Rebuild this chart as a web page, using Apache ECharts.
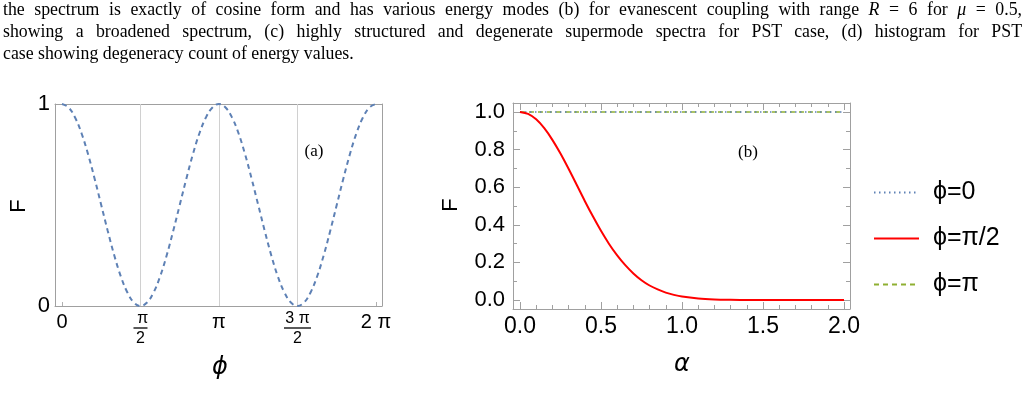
<!DOCTYPE html>
<html><head><meta charset="utf-8">
<script src="https://cdn.jsdelivr.net/npm/echarts@6/dist/echarts.min.js"></script>
<style>
html,body{margin:0;padding:0;background:#fff;}
#wrap{position:relative;width:1027px;height:408px;overflow:hidden;background:#fff;}
#chart{position:absolute;left:0;top:0;width:1027px;height:408px;}
.cap{position:absolute;left:3px;width:1019px;font-family:"Liberation Serif",serif;font-size:17.8px;line-height:22px;color:#000;white-space:nowrap;}
.j{text-align:justify;text-align-last:justify;}
.cap i{font-style:italic;}
</style></head>
<body>
<div id="wrap">
<div id="chart"></div>
<div class="cap j" style="top:-2px;">the spectrum is exactly of cosine form and has various energy modes (b) for evanescent coupling with range <i>R</i> = 6 for <i>μ</i> = 0.5,</div>
<div class="cap j" style="top:20px;">showing a broadened spectrum, (c) highly structured and degenerate supermode spectra for PST case, (d) histogram for PST</div>
<div class="cap" style="top:42px;">case showing degeneracy count of energy values.</div>
</div>
<script>
// ---- data: panel (a) ----
const phiDeg = [0,7.5,15,22.5,30,37.5,45,52.5,60,67.5,75,82.5,90,97.5,105,112.5,120,127.5,135,142.5,150,157.5,165,172.5,180,
  187.5,195,202.5,210,217.5,225,232.5,240,247.5,255,262.5,270,277.5,285,292.5,300,307.5,315,322.5,330,337.5,345,352.5,360];
const fPhi = [1,0.983,0.933,0.854,0.75,0.629,0.5,0.371,0.25,0.146,0.067,0.017,0,0.017,0.067,0.146,0.25,0.371,0.5,0.629,0.75,0.854,0.933,0.983,1,
  0.983,0.933,0.854,0.75,0.629,0.5,0.371,0.25,0.146,0.067,0.017,0,0.017,0.067,0.146,0.25,0.371,0.5,0.629,0.75,0.854,0.933,0.983,1];
const xTickValsA = [0,90,180,270,360];
const xTickLabelsA = ['0','π/2','π','3π/2','2π'];
const yTickValsA = [0,1];
const yTickLabelsA = ['0','1'];

// ---- data: panel (b) ----
const alpha = [0,0.05,0.1,0.15,0.2,0.25,0.3,0.35,0.4,0.45,0.5,0.55,0.6,0.65,0.7,0.75,0.8,0.85,0.9,0.95,1.0,
  1.1,1.2,1.3,1.4,1.5,1.6,1.7,1.8,1.9,2.0];
const fHalfPi = [1,0.99,0.961,0.914,0.852,0.779,0.698,0.613,0.527,0.445,0.368,0.298,0.237,0.185,0.141,0.105,0.077,0.056,0.039,0.027,0.018,
  0.008,0.003,0.001,0,0,0,0,0,0,0];
const alphaFlat = [0,2];
const fZero = [1,1];
const fPi = [1,1];
const seriesNames = ['ϕ=0','ϕ=π/2','ϕ=π'];
const xMajorB = [0,0.5,1,1.5,2];
const xMinorB = [0.1,0.2,0.3,0.4,0.6,0.7,0.8,0.9,1.1,1.2,1.3,1.4,1.6,1.7,1.8,1.9];
const yMajorB = [0,0.2,0.4,0.6,0.8,1];
const yMinorB = [0.1,0.3,0.5,0.7,0.9];

const zip = (xs, ys) => xs.map((x,i)=>[x, ys[i]]);
const FRAME = '#a0a0a0';
const SANS = 'Liberation Sans, Arial, sans-serif';

function ax(gi, pos, min, max, o) {
  return Object.assign({
    type:'value', gridIndex:gi, position:pos, min:min, max:max,
    axisLine:{show:false, onZero:false},
    axisTick:{show:false}, axisLabel:{show:false},
    splitLine:{show:false}, minorTick:{show:false}, minorSplitLine:{show:false}
  }, o || {});
}
const line = {show:true, onZero:false, lineStyle:{color:FRAME, width:1}};
const ticks = (vals, len, color) => ({show:true, inside:true, length:len, customValues:vals, lineStyle:{color:color||FRAME, width:1}});

const A = {xmin:-8, xmax:366.9, ymin:0, ymax:1};
const B = {xmin:-0.043, xmax:2.037, ymin:-0.048, ymax:1.048};

function fracLabel(v) {
  const i = xTickValsA.indexOf(v);
  const s = i >= 0 ? xTickLabelsA[i] : '';
  if (s.indexOf('/') > 0) {
    const p = s.split('/');
    const num = p[0].replace('π',' π');
    const bar = num.trim().length > 1 ? 'barw' : 'bar';
    return '{num|' + num + '}\n{' + bar + '|}\n{den|' + p[1] + '}';
  }
  return '{one|' + s.replace('2π','2 π') + '}';
}

const xAxes = [
  // panel (a)
  ax(0,'bottom',A.xmin,A.xmax,{axisLine:line, axisTick:ticks(xTickValsA,4,'#b0b0b0'),
    axisLabel:{show:true, customValues:xTickValsA, margin:5, color:'#000', formatter:fracLabel,
      rich:{
        one:{fontSize:20, fontFamily:SANS, color:'#000', lineHeight:22},
        num:{fontSize:16, fontFamily:SANS, color:'#000', lineHeight:15, align:'center'},
        bar:{width:14, height:1.3, lineHeight:4, backgroundColor:'#000', align:'center'},
        barw:{width:27, height:1.3, lineHeight:4, backgroundColor:'#000', align:'center'},
        den:{fontSize:16, fontFamily:SANS, color:'#000', lineHeight:18, align:'center'}
      }}}),
  ax(0,'top',A.xmin,A.xmax,{axisLine:line}),
  ax(0,'bottom',A.xmin,A.xmax,{axisTick:{show:true, inside:true, length:202, customValues:[90,180,270], lineStyle:{color:'#d0d0d0', width:1}}}),
  // panel (b)
  ax(1,'bottom',B.xmin,B.xmax,{axisLine:line, axisTick:ticks(xMajorB,7),
    axisLabel:{show:true, customValues:xMajorB, margin:6, color:'#000', fontSize:23, fontFamily:SANS,
      formatter:v=>v.toFixed(1)}}),
  ax(1,'bottom',B.xmin,B.xmax,{axisTick:ticks(xMinorB,4)}),
  ax(1,'top',B.xmin,B.xmax,{axisLine:line, axisTick:ticks(xMajorB,7)}),
  ax(1,'top',B.xmin,B.xmax,{axisTick:ticks(xMinorB,4)})
];
const yAxes = [
  ax(0,'left',A.ymin,A.ymax,{axisLine:line,
    axisLabel:{show:true, customValues:yTickValsA, margin:5, color:'#000', fontSize:22, fontFamily:SANS,
      formatter:v=>yTickLabelsA[yTickValsA.indexOf(v)]}}),
  ax(0,'right',A.ymin,A.ymax,{axisLine:line}),
  ax(1,'left',B.ymin,B.ymax,{axisLine:line, axisTick:ticks(yMajorB,7),
    axisLabel:{show:true, customValues:yMajorB, margin:8, color:'#000', fontSize:22, fontFamily:SANS,
      formatter:v=>v.toFixed(1)}}),
  ax(1,'left',B.ymin,B.ymax,{axisTick:ticks(yMinorB,4)}),
  ax(1,'right',B.ymin,B.ymax,{axisLine:line, axisTick:ticks(yMajorB,7)}),
  ax(1,'right',B.ymin,B.ymax,{axisTick:ticks(yMinorB,4)})
];

const chart = echarts.init(document.getElementById('chart'), null, {renderer:'canvas'});
chart.setOption({
  animation:false,
  backgroundColor:'transparent',
  grid:[
    {left:55, top:104, width:327, height:202, containLabel:false, outerBoundsMode:'none'},
    {left:513, top:103, width:337, height:206, containLabel:false, outerBoundsMode:'none'}
  ],
  xAxis:xAxes,
  yAxis:yAxes,
  legend:{
    orient:'vertical', left:873, top:180, padding:0, itemWidth:45, itemHeight:14, itemGap:21,
    data:seriesNames, selectedMode:false,
    itemStyle:{color:'rgba(0,0,0,0)', borderWidth:0, opacity:0},
    textStyle:{fontSize:25, fontFamily:SANS, color:'#000', padding:[0,0,0,9]}
  },
  series:[
    {type:'line', xAxisIndex:0, yAxisIndex:0, data:zip(phiDeg,fPhi), smooth:0.4, symbol:'none',
      lineStyle:{color:'#5E81B5', width:2, type:[5,4]}},
    {name:seriesNames[2], type:'line', xAxisIndex:3, yAxisIndex:2, data:zip(alphaFlat,fPi), symbol:'none',
      itemStyle:{color:'#8FB032'}, lineStyle:{color:'#8FB032', width:1.6, type:[5,4]}},
    {name:seriesNames[0], type:'line', xAxisIndex:3, yAxisIndex:2, data:zip(alphaFlat,fZero), symbol:'none',
      itemStyle:{color:'#5E81B5'}, lineStyle:{color:'#5E81B5', width:1.6, type:[1.5,3.5]}},
    {name:seriesNames[1], type:'line', xAxisIndex:3, yAxisIndex:2, data:zip(alpha,fHalfPi), smooth:0.3, symbol:'none',
      itemStyle:{color:'#FF0000'}, lineStyle:{color:'#FF0000', width:2}}
  ],
  graphic:[
    {type:'text', x:19, y:206, rotation:Math.PI/2, style:{text:'F', font:'22px '+SANS, fill:'#000', align:'center', verticalAlign:'middle'}},
    {type:'text', x:220, y:368, style:{text:'ϕ', font:'italic 24px DejaVu Sans, sans-serif', fill:'#000', align:'center', verticalAlign:'middle'}},
    {type:'text', x:314, y:152, style:{text:'(a)', font:'17px Liberation Serif, serif', fill:'#000', align:'center', verticalAlign:'middle'}},
    {type:'text', x:451, y:205, rotation:Math.PI/2, style:{text:'F', font:'22px '+SANS, fill:'#000', align:'center', verticalAlign:'middle'}},
    {type:'text', x:682, y:365, style:{text:'α', font:'italic 24px DejaVu Sans, sans-serif', fill:'#000', align:'center', verticalAlign:'middle'}},
    {type:'text', x:748, y:153, style:{text:'(b)', font:'17px Liberation Serif, serif', fill:'#000', align:'center', verticalAlign:'middle'}}
  ]
});
</script>
</body></html>
